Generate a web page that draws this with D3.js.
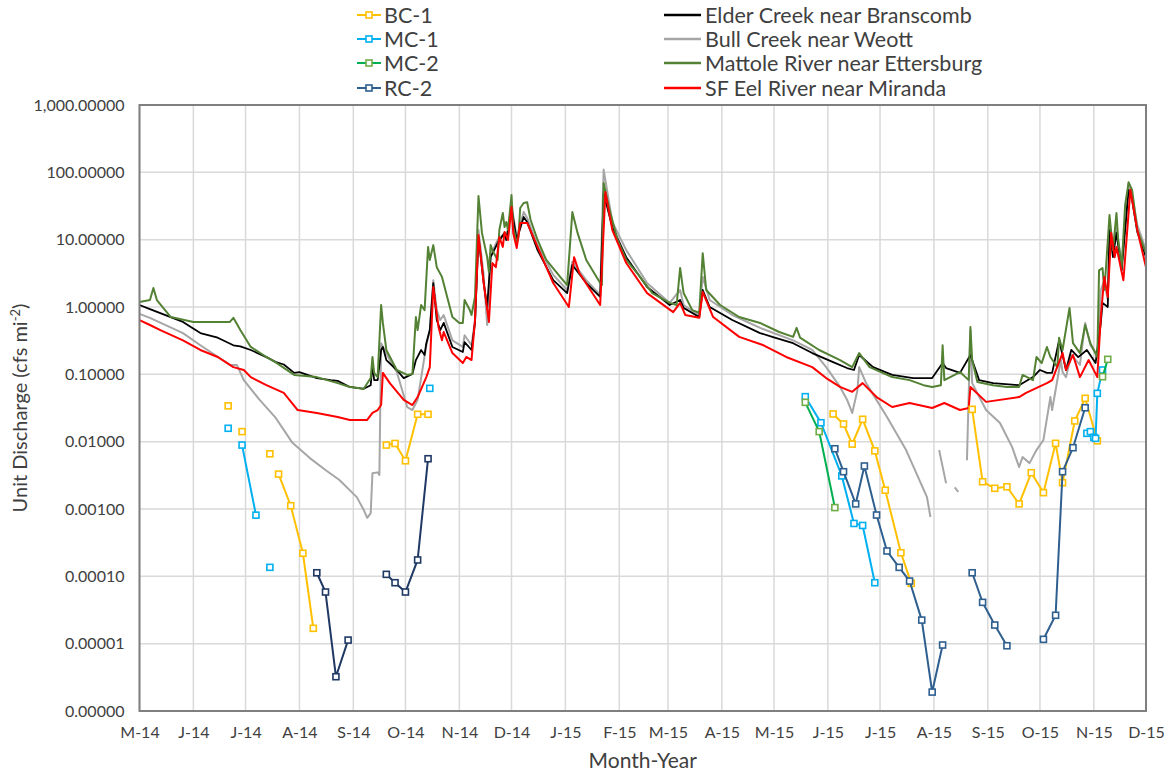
<!DOCTYPE html>
<html lang="en">
<head>
<meta charset="utf-8" />
<title>Unit Discharge</title>
<style>
  body { margin: 0; background: #fff; }
  svg text { font-family: Lato, "Liberation Sans", sans-serif; fill: #404040; }
</style>
</head>
<body>
<svg id="chart"></svg>
<script src="https://d3js.org/d3.v7.min.js"></script>
<script>
// gauge records (date, cfs per sq mi)
var elderCreek = [["2014-05-01",1.07],["2014-05-07",0.93],["2014-05-26",0.60],["2014-06-05",0.41],["2014-06-15",0.35],["2014-06-24",0.27],["2014-06-28",0.26],["2014-07-04",0.23],["2014-07-13",0.18],["2014-07-19",0.15],["2014-07-23",0.14],["2014-07-29",0.105],["2014-08-01",0.108],["2014-08-11",0.088],["2014-08-19",0.082],["2014-08-23",0.080],["2014-08-30",0.065],["2014-09-07",0.061],["2014-09-11",0.069],["2014-09-12",0.138],["2014-09-13",0.082],["2014-09-15",0.082],["2014-09-17",0.23],["2014-09-18",0.255],["2014-09-20",0.163],["2014-09-26",0.116],["2014-09-30",0.088],["2014-10-05",0.101],["2014-10-07",0.163],["2014-10-10",0.23],["2014-10-12",0.194],["2014-10-13",0.29],["2014-10-15",0.455],["2014-10-17",2.27],["2014-10-19",0.64],["2014-10-21",0.455],["2014-10-23",0.58],["2014-10-28",0.255],["2014-11-03",0.215],["2014-11-04",0.30],["2014-11-08",0.23],["2014-11-10",0.58],["2014-11-12",10.9],["2014-11-15",2.27],["2014-11-17",1.0],["2014-11-19",5.5],["2014-11-23",8.9],["2014-11-27",12.6],["2014-11-28",9.9],["2014-12-01",29.5],["2014-12-04",9.9],["2014-12-08",21.7],["2014-12-10",18.3],["2014-12-16",7.0],["2014-12-25",2.5],["2015-01-02",1.61],["2015-01-05",4.2],["2015-01-13",2.27],["2015-01-21",1.41],["2015-01-23",49],["2015-01-28",15.4],["2015-02-05",5.5],["2015-02-17",1.98],["2015-03-02",1.07],["2015-03-08",1.27],["2015-03-10",0.97],["2015-03-19",0.71],["2015-03-21",1.79],["2015-03-25",1.0],["2015-04-07",0.64],["2015-04-23",0.41],["2015-04-30",0.36],["2015-05-12",0.29],["2015-05-23",0.207],["2015-06-04",0.152],["2015-06-12",0.124],["2015-06-16",0.116],["2015-06-19",0.194],["2015-06-27",0.128],["2015-07-08",0.098],["2015-07-20",0.088],["2015-07-31",0.088],["2015-08-06",0.147],["2015-08-08",0.124],["2015-08-16",0.105],["2015-08-22",0.194],["2015-08-27",0.082],["2015-09-04",0.074],["2015-09-19",0.069],["2015-09-27",0.091],["2015-10-01",0.116],["2015-10-05",0.105],["2015-10-08",0.105],["2015-10-12",0.32],["2015-10-16",0.116],["2015-10-19",0.23],["2015-10-23",0.18],["2015-10-28",0.23],["2015-11-02",0.147],["2015-11-05",0.58],["2015-11-06",1.15],["2015-11-09",1.0],["2015-11-10",13.9],["2015-11-12",5.5],["2015-11-14",12.6],["2015-11-17",3.5],["2015-11-21",55],["2015-11-23",39],["2015-11-26",13],["2015-12-01",5.5]];

var bullCreek = [["2014-05-01",0.79],["2014-05-07",0.69],["2014-05-26",0.41],["2014-06-05",0.27],["2014-06-22",0.138],["2014-06-26",0.138],["2014-06-30",0.082],["2014-07-09",0.042],["2014-07-18",0.0232],["2014-07-28",0.0096],["2014-08-07",0.0057],["2014-08-16",0.0038],["2014-08-24",0.0027],["2014-09-03",0.0015],["2014-09-07",0.00097],["2014-09-09",0.00074],["2014-09-11",0.00087],["2014-09-12",0.0034],["2014-09-15",0.0035],["2014-09-16",0.0032],["2014-09-17",0.29],["2014-09-22",0.163],["2014-09-26",0.108],["2014-10-02",0.0327],["2014-10-05",0.0295],["2014-10-08",0.042],["2014-10-13",0.27],["2014-10-15",0.455],["2014-10-17",2.5],["2014-10-19",0.90],["2014-10-21",0.64],["2014-10-23",0.76],["2014-10-28",0.32],["2014-11-03",0.255],["2014-11-04",0.38],["2014-11-08",0.27],["2014-11-10",0.64],["2014-11-12",13.9],["2014-11-15",3.0],["2014-11-17",0.54],["2014-11-19",5.9],["2014-11-23",9.9],["2014-11-27",12.6],["2014-11-28",9.9],["2014-12-01",32.7],["2014-12-04",10.9],["2014-12-08",25.8],["2014-12-10",21],["2014-12-16",8.3],["2014-12-25",3.0],["2015-01-02",1.79],["2015-01-05",4.7],["2015-01-13",2.5],["2015-01-21",1.51],["2015-01-23",110],["2015-01-28",18.3],["2015-02-05",7.0],["2015-02-17",2.27],["2015-03-02",1.15],["2015-03-08",1.79],["2015-03-10",1.07],["2015-03-19",0.76],["2015-03-21",2.8],["2015-03-25",1.27],["2015-04-07",0.76],["2015-04-23",0.49],["2015-05-12",0.32],["2015-05-23",0.23],["2015-05-31",0.128],["2015-06-08",0.065],["2015-06-12",0.042],["2015-06-15",0.0267],["2015-06-18",0.058],["2015-06-19",0.128],["2015-06-23",0.074],["2015-07-05",0.0232],["2015-07-16",0.0075],["2015-07-28",0.0015],["2015-07-30",0.00076],["2015-07-31",null],["2015-08-04",0.0075],["2015-08-08",0.0024],["2015-08-10",null],["2015-08-13",0.0021],["2015-08-15",0.0018],["2015-08-17",null],["2015-08-20",0.0053],["2015-08-22",0.455],["2015-08-23",0.074],["2015-08-31",0.0295],["2015-09-08",0.0189],["2015-09-15",0.0083],["2015-09-19",0.0042],["2015-09-21",0.0059],["2015-09-25",0.0048],["2015-09-29",0.0075],["2015-10-03",0.0106],["2015-10-07",0.046],["2015-10-08",0.0295],["2015-10-13",0.163],["2015-10-14",0.108],["2015-10-16",0.091],["2015-10-19",0.194],["2015-10-24",0.138],["2015-10-27",0.58],["2015-10-30",0.27],["2015-11-03",0.194],["2015-11-05",1.79],["2015-11-07",2.5],["2015-11-09",1.27],["2015-11-10",16.5],["2015-11-12",7.0],["2015-11-14",14.9],["2015-11-17",4.2],["2015-11-21",69.5],["2015-11-23",46],["2015-11-26",16.5],["2015-12-01",7.0]];

var mattoleRiver = [["2014-05-01",1.19],["2014-05-07",1.27],["2014-05-09",1.91],["2014-05-11",1.27],["2014-05-19",0.71],["2014-06-01",0.60],["2014-06-13",0.60],["2014-06-22",0.60],["2014-06-24",0.69],["2014-06-28",0.455],["2014-07-04",0.255],["2014-07-13",0.181],["2014-07-19",0.147],["2014-07-29",0.098],["2014-08-11",0.091],["2014-08-23",0.074],["2014-08-30",0.065],["2014-09-07",0.061],["2014-09-11",0.088],["2014-09-12",0.181],["2014-09-13",0.105],["2014-09-15",0.091],["2014-09-17",1.07],["2014-09-18",0.58],["2014-09-20",0.23],["2014-09-26",0.116],["2014-10-02",0.098],["2014-10-05",0.101],["2014-10-07",0.71],["2014-10-08",0.455],["2014-10-10",1.07],["2014-10-12",0.90],["2014-10-14",7.8],["2014-10-15",5.0],["2014-10-17",8.3],["2014-10-19",3.9],["2014-10-22",2.8],["2014-10-25",1.41],["2014-10-28",0.71],["2014-11-01",0.58],["2014-11-03",0.58],["2014-11-04",1.27],["2014-11-07",0.90],["2014-11-08",0.76],["2014-11-10",1.41],["2014-11-12",44.5],["2014-11-14",12.6],["2014-11-17",5.5],["2014-11-18",3.3],["2014-11-19",8.3],["2014-11-20",7.0],["2014-11-23",5.0],["2014-11-24",13.9],["2014-11-26",24.9],["2014-11-27",15.4],["2014-11-28",18.3],["2014-11-29",13.9],["2014-12-01",46],["2014-12-02",15.4],["2014-12-04",8.9],["2014-12-05",10.9],["2014-12-06",29.5],["2014-12-08",35],["2014-12-10",36],["2014-12-12",19.6],["2014-12-16",9.9],["2014-12-21",5.0],["2014-12-29",2.8],["2015-01-02",2.12],["2015-01-05",25.8],["2015-01-08",12.6],["2015-01-13",5.0],["2015-01-21",2.27],["2015-01-22",2.12],["2015-01-23",69.5],["2015-01-26",30.5],["2015-01-31",9.9],["2015-02-05",5.0],["2015-02-13",2.8],["2015-02-20",1.61],["2015-03-02",1.15],["2015-03-06",1.07],["2015-03-08",3.8],["2015-03-10",1.61],["2015-03-15",0.90],["2015-03-19",0.82],["2015-03-21",6.3],["2015-03-23",1.79],["2015-03-31",1.07],["2015-04-11",0.71],["2015-04-23",0.58],["2015-05-04",0.425],["2015-05-12",0.36],["2015-05-14",0.49],["2015-05-16",0.35],["2015-05-27",0.23],["2015-06-08",0.163],["2015-06-15",0.128],["2015-06-19",0.207],["2015-06-25",0.128],["2015-07-08",0.091],["2015-07-18",0.082],["2015-07-26",0.069],["2015-07-31",0.065],["2015-08-05",0.069],["2015-08-06",0.27],["2015-08-07",0.082],["2015-08-16",0.108],["2015-08-21",0.082],["2015-08-22",0.505],["2015-08-23",0.163],["2015-08-26",0.077],["2015-09-04",0.069],["2015-09-12",0.065],["2015-09-19",0.065],["2015-09-21",0.098],["2015-09-27",0.082],["2015-09-29",0.181],["2015-10-02",0.147],["2015-10-05",0.255],["2015-10-07",0.181],["2015-10-11",0.128],["2015-10-12",0.35],["2015-10-14",0.23],["2015-10-18",0.97],["2015-10-20",0.29],["2015-10-24",0.207],["2015-10-27",0.54],["2015-10-30",0.29],["2015-11-03",0.181],["2015-11-04",3.5],["2015-11-06",3.8],["2015-11-07",1.79],["2015-11-08",3.9],["2015-11-10",23.2],["2015-11-12",7.0],["2015-11-14",24.9],["2015-11-15",9.9],["2015-11-17",3.9],["2015-11-19",32.7],["2015-11-21",71],["2015-11-23",55],["2015-11-26",13.9],["2015-12-01",6.3]];

var sfEelRiver = [["2014-05-01",0.64],["2014-05-07",0.54],["2014-05-13",0.455],["2014-05-26",0.32],["2014-06-05",0.23],["2014-06-15",0.181],["2014-06-24",0.128],["2014-06-30",0.116],["2014-07-04",0.091],["2014-07-13",0.069],["2014-07-23",0.053],["2014-07-31",0.0295],["2014-08-11",0.0267],["2014-08-23",0.0232],["2014-08-30",0.021],["2014-09-09",0.021],["2014-09-12",0.0267],["2014-09-15",0.0295],["2014-09-17",0.035],["2014-09-18",0.105],["2014-09-22",0.074],["2014-09-30",0.0416],["2014-10-05",0.035],["2014-10-08",0.046],["2014-10-13",0.091],["2014-10-15",0.128],["2014-10-17",1.98],["2014-10-20",0.505],["2014-10-22",0.32],["2014-10-23",0.425],["2014-10-28",0.207],["2014-11-03",0.147],["2014-11-05",0.181],["2014-11-08",0.163],["2014-11-10",0.64],["2014-11-12",11.7],["2014-11-15",2.27],["2014-11-18",0.60],["2014-11-20",4.5],["2014-11-22",3.9],["2014-11-24",10.9],["2014-11-26",7.8],["2014-11-27",13.0],["2014-11-29",9.9],["2014-12-01",30.5],["2014-12-02",12.6],["2014-12-04",7.5],["2014-12-06",17.7],["2014-12-10",17.7],["2014-12-16",7.8],["2014-12-25",2.27],["2015-01-03",1.0],["2015-01-06",5.5],["2015-01-09",3.2],["2015-01-21",1.07],["2015-01-24",51],["2015-01-28",13.9],["2015-02-05",4.5],["2015-02-17",1.61],["2015-03-04",0.84],["2015-03-08",1.15],["2015-03-11",0.76],["2015-03-19",0.69],["2015-03-21",1.67],["2015-03-27",0.71],["2015-04-11",0.36],["2015-04-25",0.27],["2015-05-08",0.181],["2015-05-23",0.128],["2015-05-31",0.088],["2015-06-08",0.065],["2015-06-15",0.055],["2015-06-21",0.074],["2015-06-29",0.046],["2015-07-08",0.0327],["2015-07-18",0.0375],["2015-07-31",0.0316],["2015-08-07",0.0375],["2015-08-16",0.0295],["2015-08-21",0.0316],["2015-08-22",0.065],["2015-08-31",0.039],["2015-09-19",0.046],["2015-09-23",0.053],["2015-10-05",0.074],["2015-10-08",0.082],["2015-10-14",0.207],["2015-10-16",0.116],["2015-10-20",0.194],["2015-10-24",0.091],["2015-10-29",0.163],["2015-11-03",0.091],["2015-11-05",0.71],["2015-11-07",2.8],["2015-11-09",1.41],["2015-11-11",12.6],["2015-11-13",5.5],["2015-11-14",7.8],["2015-11-18",2.5],["2015-11-22",55],["2015-11-26",13.9],["2015-12-01",3.9]];

// site measurements, null = no reading (breaks the line)
var bc1 = [["2014-06-21",0.034],["2014-06-25",null],["2014-06-29",0.0141],["2014-07-05",null],["2014-07-15",0.0066],["2014-07-17",null],["2014-07-20",0.0033],["2014-07-27",0.00112],["2014-08-03",0.00022],["2014-08-09",0.0000169],["2014-09-01",null],["2014-09-20",0.0089],["2014-09-25",0.0094],["2014-10-01",0.0052],["2014-10-08",0.0255],["2014-10-14",0.0255],["2015-01-01",null],["2015-06-04",0.0258],["2015-06-10",0.0183],["2015-06-15",0.0092],["2015-06-21",0.0215],["2015-06-28",0.0073],["2015-07-04",0.0019],["2015-07-13",0.000224],["2015-07-19",0.0000787],["2015-08-01",null],["2015-08-23",0.0302],["2015-08-29",0.00254],["2015-09-05",0.00203],["2015-09-12",0.00214],["2015-09-19",0.00119],["2015-09-26",0.00346],["2015-10-03",0.00175],["2015-10-10",0.00944],["2015-10-14",0.00246],["2015-10-21",0.0203],["2015-10-27",0.0441],["2015-11-03",0.0103]];

var mc1 = [["2014-06-21",0.0158],["2014-06-25",null],["2014-06-29",0.0089],["2014-07-07",0.00081],["2014-07-11",null],["2014-07-15",0.000136],["2014-08-01",null],["2014-10-15",0.0619],["2015-01-01",null],["2015-05-19",0.0466],["2015-05-28",0.0191],["2015-06-09",0.0031],["2015-06-16",0.00061],["2015-06-21",0.00057],["2015-06-28",0.0000804],["2015-08-01",null],["2015-10-28",0.0133],["2015-10-30",0.0141],["2015-11-01",0.0116],["2015-11-02",0.0112],["2015-11-03",0.0522],["2015-11-06",0.116]];

var mc2 = [["2015-05-19",0.0384],["2015-05-27",0.0141],["2015-06-05",0.00105],["2015-08-01",null],["2015-11-06",0.0923],["2015-11-09",0.167]];

var rc2Year1 = [["2014-08-11",0.000113],["2014-08-16",0.0000585],["2014-08-22",0.00000323],["2014-08-29",0.0000113],["2014-09-10",null],["2014-09-20",0.000107],["2014-09-25",0.0000804],["2014-10-01",0.0000585],["2014-10-08",0.000175],["2014-10-14",0.00558]];

var rc2Year2 = [["2015-06-05",0.00785],["2015-06-10",0.00358],["2015-06-17",0.00119],["2015-06-22",0.00435],["2015-06-29",0.000814],["2015-07-05",0.000238],["2015-07-12",0.000136],["2015-07-18",0.0000851],["2015-07-25",0.0000224],["2015-07-31",0.00000191],["2015-08-06",0.00000955],["2015-08-15",null],["2015-08-23",0.000113],["2015-08-29",0.0000411],["2015-09-05",0.0000189],["2015-09-12",0.00000931],["2015-09-25",null],["2015-10-03",0.0000116],["2015-10-10",0.0000264],["2015-10-14",0.00358],["2015-10-20",0.00813],["2015-10-27",0.0319]];

var monthInitials = ["J","F","M","A","M","J","J","A","S","O","N","D"];
var yTicks = [0.000001, 0.00001, 0.0001, 0.001, 0.01, 0.1, 1, 10, 100, 1000];

var width = 1169, height = 773;
var plot = {left: 139.5, right: 1146, top: 105, bottom: 711};
var parse = d3.timeParse("%Y-%m-%d");

var svg = d3.select("#chart").attr("width", width).attr("height", height);

var x = d3.scaleTime()
    .domain([new Date(2014, 4, 1), new Date(2015, 11, 1)])
    .range([plot.left, plot.right]);
var y = d3.scaleLog()
    .domain([0.000001, 1000])
    .range([plot.bottom, plot.top]);

var months = d3.timeMonth.range(new Date(2014, 4, 1), new Date(2015, 11, 2));

// grid
var grid = svg.append("g").attr("class", "grid");
grid.selectAll("line.v").data(months).enter().append("line")
    .attr("x1", function(d) { return x(d); }).attr("x2", function(d) { return x(d); })
    .attr("y1", plot.top).attr("y2", plot.bottom)
    .attr("stroke", "#d9d9d9").attr("stroke-width", 1.5);
grid.selectAll("line.h").data(yTicks).enter().append("line")
    .attr("x1", plot.left).attr("x2", plot.right)
    .attr("y1", function(d) { return y(d); }).attr("y2", function(d) { return y(d); })
    .attr("stroke", "#d9d9d9").attr("stroke-width", 1.5);

// axes
var xAxis = d3.axisBottom(x).tickValues(months).tickSize(0).tickPadding(16)
    .tickFormat(function(d) { return monthInitials[d.getMonth()] + "-" + d3.timeFormat("%y")(d); });
var gx = svg.append("g").attr("transform", "translate(0," + plot.bottom + ")").call(xAxis);
gx.select(".domain").remove();
gx.selectAll("text").attr("font-size", 16).attr("fill", "#404040")
    .style("font-family", "Lato, 'Liberation Sans', sans-serif");

var yAxis = d3.axisLeft(y).tickValues(yTicks).tickSize(0).tickPadding(15)
    .tickFormat(d3.format(",.5f"));
var gy = svg.append("g").attr("transform", "translate(" + plot.left + ",0)").call(yAxis);
gy.select(".domain").remove();
gy.selectAll("text").attr("font-size", 16).attr("fill", "#404040")
    .style("font-family", "Lato, 'Liberation Sans', sans-serif");

function prep(arr) {
    return arr.map(function(d) { return {date: parse(d[0]), value: d[1]}; });
}

var line = d3.line()
    .defined(function(d) { return d.value != null; })
    .x(function(d) { return x(d.date); })
    .y(function(d) { return y(d.value); });

var gauges = [
    {name: "Bull Creek near Weott", data: bullCreek, color: "#a6a6a6", w: 2},
    {name: "Elder Creek near Branscomb", data: elderCreek, color: "#000000", w: 1.8},
    {name: "Mattole River near Ettersburg", data: mattoleRiver, color: "#548235", w: 2},
    {name: "SF Eel River near Miranda", data: sfEelRiver, color: "#ff0000", w: 2}
];

var lines = svg.append("g").attr("class", "gauges");
gauges.forEach(function(s) {
    lines.append("path")
        .datum(prep(s.data))
        .attr("d", line)
        .attr("fill", "none")
        .attr("stroke", s.color)
        .attr("stroke-width", s.w)
        .attr("stroke-linejoin", "round");
});

var sites = [
    {name: "BC-1", data: bc1, color: "#ffc000", marker: "#ffc000"},
    {name: "MC-1", data: mc1, color: "#00b0f0", marker: "#00b0f0"},
    {name: "MC-2", data: mc2, color: "#00b050", marker: "#70ad47"},
    {name: "RC-2", data: rc2Year1, color: "#1f3864", marker: "#1f3864"},
    {name: "RC-2", data: rc2Year2, color: "#2e5f8f", marker: "#2e5f8f"}
];

var pts = svg.append("g").attr("class", "sites");
sites.forEach(function(s) {
    var d = prep(s.data);
    pts.append("path")
        .datum(d)
        .attr("d", line)
        .attr("fill", "none")
        .attr("stroke", s.color)
        .attr("stroke-width", 2);
    pts.selectAll(null)
        .data(d.filter(function(p) { return p.value != null; }))
        .enter().append("rect")
        .attr("x", function(p) { return x(p.date) - 3; })
        .attr("y", function(p) { return y(p.value) - 3; })
        .attr("width", 6).attr("height", 6)
        .attr("fill", "#fff")
        .attr("stroke", s.marker)
        .attr("stroke-width", 1.6);
});

// plot border
svg.append("rect")
    .attr("x", plot.left).attr("y", plot.top)
    .attr("width", plot.right - plot.left).attr("height", plot.bottom - plot.top)
    .attr("fill", "none").attr("stroke", "#7f7f7f").attr("stroke-width", 2);

// axis titles
svg.append("text")
    .attr("x", (plot.left + plot.right) / 2).attr("y", 768)
    .attr("text-anchor", "middle").attr("font-size", 21)
    .text("Month-Year");

var yt = svg.append("text")
    .attr("transform", "translate(27," + (plot.top + plot.bottom) / 2 + ") rotate(-90)")
    .attr("text-anchor", "middle").attr("font-size", 20);
yt.append("tspan").text("Unit Discharge (cfs mi");
yt.append("tspan").attr("font-size", 13).attr("dy", -7).text("-2");
yt.append("tspan").attr("dy", 7).text(")");

// legend
var legendRows = [15, 39, 63, 88];
var leftItems = [sites[0], sites[1], sites[2], sites[4]];
var leg = svg.append("g").attr("class", "legend");
leftItems.forEach(function(s, i) {
    var g = leg.append("g").attr("transform", "translate(0," + legendRows[i] + ")");
    g.append("line").attr("x1", 357).attr("x2", 381).attr("y1", 0).attr("y2", 0)
        .attr("stroke", s.color).attr("stroke-width", 2);
    g.append("rect").attr("x", 366).attr("y", -3).attr("width", 6).attr("height", 6)
        .attr("fill", "#fff").attr("stroke", s.marker).attr("stroke-width", 1.6);
    g.append("text").attr("x", 384).attr("y", 0).attr("dy", "0.35em")
        .attr("font-size", 21.5).text(s.name);
});
var rightItems = [gauges[1], gauges[0], gauges[2], gauges[3]];
rightItems.forEach(function(s, i) {
    var g = leg.append("g").attr("transform", "translate(0," + legendRows[i] + ")");
    g.append("line").attr("x1", 664).attr("x2", 701).attr("y1", 0).attr("y2", 0)
        .attr("stroke", s.color).attr("stroke-width", 2.5);
    g.append("text").attr("x", 705).attr("y", 0).attr("dy", "0.35em")
        .attr("font-size", 21.5).text(s.name);
});
</script>
</body>
</html>
